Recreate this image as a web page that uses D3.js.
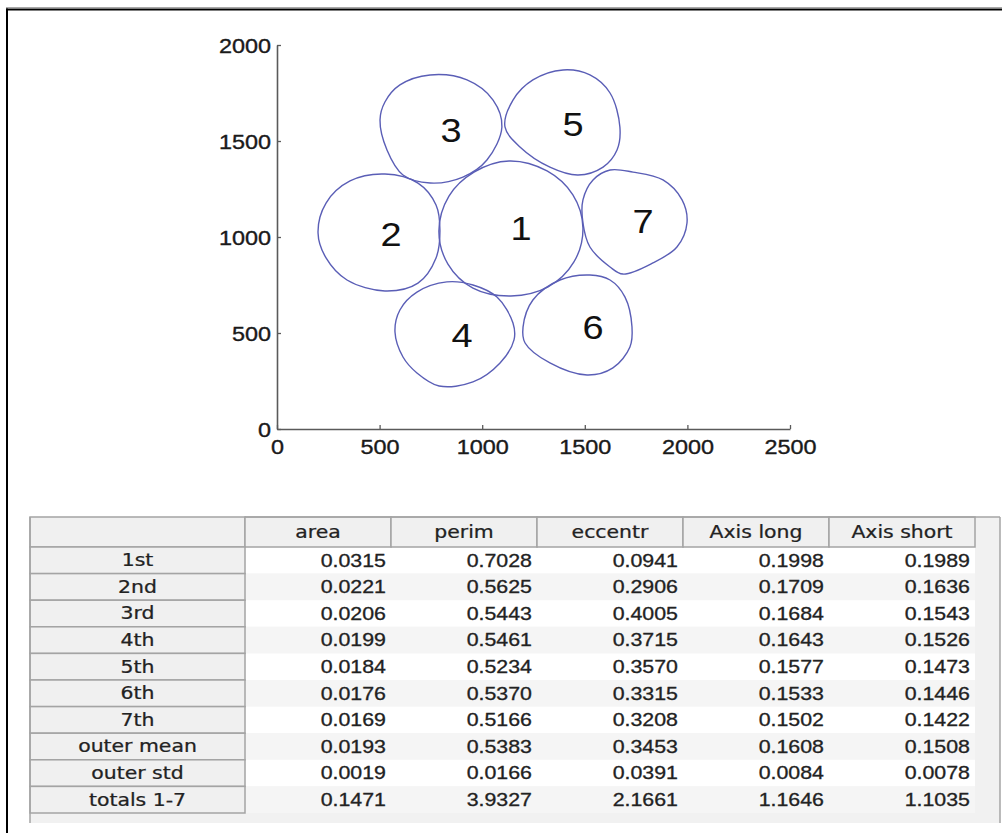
<!DOCTYPE html>
<html>
<head>
<meta charset="utf-8">
<script src="https://cdn.jsdelivr.net/npm/d3@7"></script>
<style>
  html, body { margin: 0; padding: 0; background: #fff; }
  svg { display: block; }
</style>
</head>
<body>
<svg id="fig" width="1004" height="833"></svg>
<script>
// ---- region outlines (x, y in plot units), traced counter-clockwise ----
const region1 = [[1491,1047],[1442,1219],[1316,1344],[1131,1396],[960,1338],[838,1213],[789,1031],[833,859],[955,734],[1140,693],[1321,740],[1447,870]];
const region2 = [[794,1036],[775,1167],[687,1281],[526,1328],[356,1292],[239,1177],[200,1021],[239,891],[341,776],[526,719],[687,760],[775,891]];
const region3 = [[746,1844],[599,1792],[526,1703],[502,1609],[536,1453],[614,1323],[746,1281],[906,1312],[1023,1401],[1096,1573],[1053,1713],[926,1818]];
const region4 = [[828,766],[682,713],[599,620],[575,505],[614,375],[682,292],[790,224],[955,245],[1087,344],[1155,464],[1150,552],[1072,687],[955,750]];
const region5 = [[1394,1870],[1247,1818],[1150,1713],[1111,1573],[1184,1469],[1330,1364],[1467,1323],[1589,1364],[1657,1453],[1671,1573],[1623,1750],[1525,1844]];
const region6 = [[1525,802],[1379,776],[1247,672],[1199,531],[1209,448],[1330,344],[1511,281],[1637,318],[1720,427],[1730,531],[1696,687],[1623,776]];
const region7 = [[1623,1349],[1540,1297],[1491,1193],[1491,1073],[1525,948],[1623,844],[1686,807],[1832,865],[1949,948],[1998,1073],[1974,1193],[1881,1297],[1735,1338]];

const regionNames = ["1", "2", "3", "4", "5", "6", "7"];
const labelX = [1189, 556, 848, 902, 1443, 1540, 1784];
const labelY = [1047, 1016, 1557, 490, 1589, 531, 1083];

const xTicks = [0, 500, 1000, 1500, 2000, 2500];
const yTicks = [0, 500, 1000, 1500, 2000];

// ---- shape statistics table ----
const rowLabels = ["1st", "2nd", "3rd", "4th", "5th", "6th", "7th", "outer mean", "outer std", "totals 1-7"];
const colHeaders = ["area", "perim", "eccentr", "Axis long", "Axis short"];
const area      = [0.0315, 0.0221, 0.0206, 0.0199, 0.0184, 0.0176, 0.0169, 0.0193, 0.0019, 0.1471];
const perim     = [0.7028, 0.5625, 0.5443, 0.5461, 0.5234, 0.5370, 0.5166, 0.5383, 0.0166, 3.9327];
const eccentr   = [0.0941, 0.2906, 0.4005, 0.3715, 0.3570, 0.3315, 0.3208, 0.3453, 0.0391, 2.1661];
const axisLong  = [0.1998, 0.1709, 0.1684, 0.1643, 0.1577, 0.1533, 0.1502, 0.1608, 0.0084, 1.1646];
const axisShort = [0.1989, 0.1636, 0.1543, 0.1526, 0.1473, 0.1446, 0.1422, 0.1508, 0.0078, 1.1035];

const svg = d3.select("#fig");

// window frame
svg.append("line").attr("x1", 6).attr("x2", 1002).attr("y1", 7.5).attr("y2", 7.5)
  .attr("stroke", "#a8a8a8").attr("stroke-width", 1);
svg.append("line").attr("x1", 6).attr("x2", 1002).attr("y1", 9.5).attr("y2", 9.5)
  .attr("stroke", "#000").attr("stroke-width", 2);
svg.append("line").attr("x1", 7).attr("x2", 7).attr("y1", 8.5).attr("y2", 833)
  .attr("stroke", "#000").attr("stroke-width", 2);

// ---- plot ----
const x = d3.scaleLinear().domain([0, 2500]).range([277, 790]);
const y = d3.scaleLinear().domain([0, 2000]).range([429, 45]);

const tickFont = "'Liberation Sans', Arial, sans-serif";
const plain = d3.format("d");

const gx = svg.append("g").attr("transform", `translate(0,${y(0)})`)
  .call(d3.axisBottom(x).tickValues(xTicks).tickFormat(plain).tickSize(-4).tickSizeOuter(0).tickPadding(11));
const gy = svg.append("g").attr("transform", `translate(${x(0)},0)`)
  .call(d3.axisLeft(y).tickValues(yTicks).tickFormat(plain).tickSize(-4).tickSizeOuter(0));

[gx, gy].forEach(g => {
  g.select(".domain").attr("stroke", "#5a5a5a").attr("stroke-width", 1.6);
  g.selectAll(".tick line").attr("stroke", "#5a5a5a").attr("stroke-width", 1.3);
  g.selectAll(".tick text").attr("fill", "#1a1a1a")
    .attr("stroke", "#1a1a1a").attr("stroke-width", 0.35)
    .style("font-family", tickFont).style("font-size", "19.5px");
});
gx.selectAll(".tick text").attr("transform", "scale(1.2,1)");
gy.selectAll(".tick text").attr("x", 0).attr("dy", "0.36em")
  .attr("transform", "translate(-6,0) scale(1.2,1)");

// region outlines
const outline = d3.line()
  .x(d => x(d[0]))
  .y(d => y(d[1]))
  .curve(d3.curveCatmullRomClosed.alpha(0.5));

const regions = [region1, region2, region3, region4, region5, region6, region7];
svg.append("g").selectAll("path").data(regions).join("path")
  .attr("d", outline)
  .attr("fill", "none")
  .attr("stroke", "#5a5eb6")
  .attr("stroke-width", 1.4);

svg.append("g").selectAll("text").data(regionNames).join("text")
  .attr("transform", (d, i) => `translate(${x(labelX[i])},${y(labelY[i])}) scale(1.15,1)`)
  .attr("text-anchor", "middle")
  .attr("dy", "0.36em")
  .style("font-family", tickFont)
  .style("font-size", "33px")
  .attr("fill", "#111")
  .text(d => d);

// ---- table ----
const tableLeft = 30, labelRight = 245, tableRight = 1000, headTop = 517, headBottom = 547;
const col = d3.scaleBand().domain(colHeaders).range([labelRight, 975]);
const row = d3.scaleBand().domain(rowLabels).range([headBottom, 813]);
const columns = [area, perim, eccentr, axisLong, axisShort];
const fmt = d3.format(".4f");
const labelFont = "'DejaVu Sans', Verdana, sans-serif";
const grid = "#a4a4a4";
const ink = "#222";

const tbl = svg.append("g");

// panel background
tbl.append("rect").attr("x", tableLeft).attr("y", headTop)
  .attr("width", tableRight - tableLeft).attr("height", 823 - headTop)
  .attr("fill", "#f1f1f1");

// data row stripes
tbl.append("g").selectAll("rect").data(rowLabels).join("rect")
  .attr("x", labelRight).attr("y", d => row(d))
  .attr("width", col.range()[1] - labelRight).attr("height", row.bandwidth())
  .attr("fill", (d, i) => i % 2 === 0 ? "#ffffff" : "#f5f5f5");

// header row cells
tbl.append("rect").attr("x", tableLeft).attr("y", headTop)
  .attr("width", labelRight - tableLeft).attr("height", headBottom - headTop)
  .attr("fill", "#f0f0f0").attr("stroke", grid).attr("stroke-width", 1.5);
tbl.append("g").selectAll("rect").data(colHeaders).join("rect")
  .attr("x", d => col(d)).attr("y", headTop)
  .attr("width", col.bandwidth()).attr("height", headBottom - headTop)
  .attr("fill", "#f0f0f0").attr("stroke", grid).attr("stroke-width", 1.5);

// row header cells
tbl.append("g").selectAll("rect").data(rowLabels).join("rect")
  .attr("x", tableLeft).attr("y", d => row(d))
  .attr("width", labelRight - tableLeft).attr("height", row.bandwidth())
  .attr("fill", "#f0f0f0").attr("stroke", grid).attr("stroke-width", 1.5);

// panel edges
tbl.append("line").attr("x1", tableLeft).attr("x2", tableLeft).attr("y1", headTop).attr("y2", 823)
  .attr("stroke", grid).attr("stroke-width", 1.5);
tbl.append("line").attr("x1", labelRight).attr("x2", tableRight).attr("y1", headTop).attr("y2", headTop)
  .attr("stroke", grid).attr("stroke-width", 1.5);
tbl.append("line").attr("x1", tableRight).attr("x2", tableRight).attr("y1", headTop).attr("y2", 823)
  .attr("stroke", grid).attr("stroke-width", 1.5);

// header text
tbl.append("g").selectAll("text").data(colHeaders).join("text")
  .attr("transform", d => `translate(${col(d) + col.bandwidth() / 2},${(headTop + headBottom) / 2}) scale(1.2,1)`)
  .attr("text-anchor", "middle").attr("dy", "0.35em")
  .style("font-family", labelFont).style("font-size", "17px")
  .attr("fill", ink).attr("stroke", ink).attr("stroke-width", 0.25).text(d => d);

// row labels
tbl.append("g").selectAll("text").data(rowLabels).join("text")
  .attr("transform", d => `translate(${(tableLeft + labelRight) / 2},${row(d) + row.bandwidth() / 2}) scale(1.2,1)`)
  .attr("text-anchor", "middle").attr("dy", "0.35em")
  .style("font-family", labelFont).style("font-size", "17px")
  .attr("fill", ink).attr("stroke", ink).attr("stroke-width", 0.25).text(d => d);

// values
colHeaders.forEach((h, ci) => {
  tbl.append("g").selectAll("text").data(columns[ci]).join("text")
    .attr("transform", (v, ri) => `translate(${col(h) + col.bandwidth() - 5},${row(rowLabels[ri]) + row.bandwidth() / 2}) scale(1.22,1)`)
    .attr("text-anchor", "end").attr("dy", "0.36em")
    .style("font-family", tickFont).style("font-size", "17.5px")
    .attr("fill", ink).attr("stroke", ink).attr("stroke-width", 0.3).text(v => fmt(v));
});
</script>
</body>
</html>
